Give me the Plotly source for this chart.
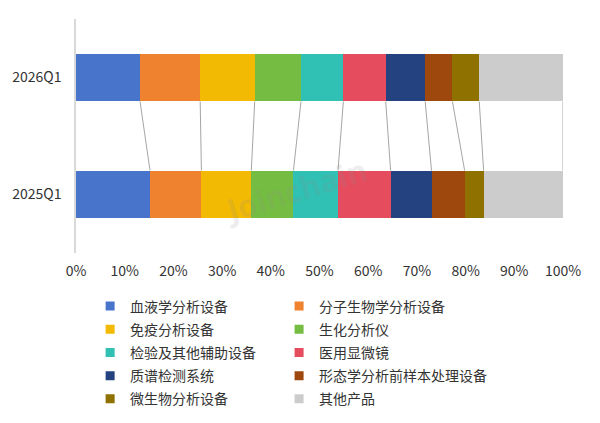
import plotly.graph_objects as go
import numpy as np

periods = ["2025Q1", "2026Q1"]
categories = ["血液学分析设备", "分子生物学分析设备", "免疫分析设备", "生化分析仪",
              "检验及其他辅助设备", "医用显微镜", "质谱检测系统", "形态学分析前样本处理设备",
              "微生物分析设备", "其他产品"]
share_2025 = [15.2, 10.55, 10.25, 8.65, 9.15, 10.8, 8.4, 6.8, 3.9, 16.3]
share_2026 = [13.15, 12.35, 11.2, 9.5, 8.7, 8.7, 8.1, 5.6, 5.5, 17.2]
colors = ["#4874CB", "#EE822F", "#F2BA02", "#75BD42", "#30C0B4", "#E54C5E",
          "#254280", "#9E480E", "#8F7100", "#CCCCCC"]
x_ticks = [0, 10, 20, 30, 40, 50, 60, 70, 80, 90, 100]

FONT = "Noto Sans CJK SC, Microsoft YaHei, sans-serif"
BAR_W = 0.41
ypos = [0, 1]

fig = go.Figure()

for i, cat in enumerate(categories):
    fig.add_trace(go.Bar(
        y=ypos, x=[share_2025[i], share_2026[i]], orientation="h",
        width=BAR_W, marker=dict(color=colors[i], line=dict(width=0)),
        name=cat, showlegend=False, hoverinfo="x+name"))

# connector lines between cumulative boundaries
cum25 = np.cumsum(share_2025)
cum26 = np.cumsum(share_2026)
lx, ly = [], []
for a, b in zip(cum26, cum25):
    lx += [a, b, None]
    ly += [ypos[1] - BAR_W / 2, ypos[0] + BAR_W / 2, None]
fig.add_trace(go.Scatter(x=lx, y=ly, mode="lines", line=dict(color="#A6A6A6", width=1),
                         showlegend=False, hoverinfo="skip"))

# legend entries: two columns (two legends)
for i, cat in enumerate(categories):
    fig.add_trace(go.Scatter(x=[None], y=[None], mode="markers", name=cat,
                             legend="legend" if i % 2 == 0 else "legend2",
                             legendgroup=cat,
                             marker=dict(symbol="square", size=9, color=colors[i])))

leg_common = dict(orientation="v", y=-0.16, xanchor="left", yanchor="top",
                  traceorder="grouped", tracegroupgap=2,
                  font=dict(size=14, color="#333333"), bgcolor="rgba(0,0,0,0)")

# page has an 8px body margin, so the figure is 8px smaller and margins shifted
fig.update_layout(
    width=592, height=415,
    margin=dict(l=68, r=37, t=11, b=170, autoexpand=False),
    paper_bgcolor="white", plot_bgcolor="white",
    barmode="stack",
    font=dict(family=FONT, size=14, color="#333333"),
    xaxis=dict(range=[0, 100], tickvals=x_ticks, ticktext=[f"{v}%" for v in x_ticks],
               showgrid=False, zeroline=False, showline=False, ticks="", automargin=False,
               tickfont=dict(size=14, color="#333333"), ticklabelstandoff=8),
    yaxis=dict(range=[-0.5, 1.5], tickvals=ypos, ticktext=periods, showgrid=False,
               zeroline=False, showline=True, linecolor="#D9D9D9", linewidth=1.5,
               ticks="", automargin=False,
               tickfont=dict(size=14, color="#333333"), ticklabelstandoff=10),
    legend=dict(x=0.029, **leg_common),
    legend2=dict(x=0.417, **leg_common),
    annotations=[dict(text="<b>Joinchain</b>", xref="paper", yref="paper",
                      x=0.45, y=0.08, showarrow=False, textangle=-17,
                      font=dict(family="Open Sans, sans-serif", size=31,
                                color="rgba(140,140,140,0.16)"))],
)

fig.write_html("out.html")
